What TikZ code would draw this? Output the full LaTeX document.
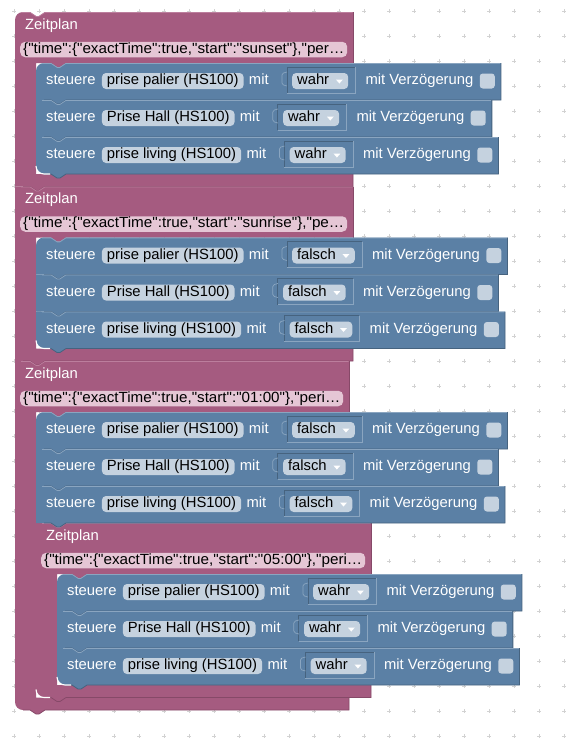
\documentclass[tikz,border=0pt]{standalone}
\usepackage{fontspec}
\setmainfont{Liberation Sans}[Ligatures=TeXOff]
\usepackage{graphicx}
\usetikzlibrary{positioning,calc}
\pgfdeclarelayer{gridl}
\pgfdeclarelayer{pinkl}
\pgfdeclarelayer{bluel}
\pgfsetlayers{gridl,pinkl,bluel,main}

\definecolor{pinkblk}{HTML}{A55B80}
\definecolor{pinkdk}{HTML}{864968}
\definecolor{pinklt}{HTML}{BC7E9D}
\definecolor{blueblk}{HTML}{5B80A5}
\definecolor{bluedk}{HTML}{46637F}
\definecolor{bluelt}{HTML}{8AA5C0}
\definecolor{fieldbl}{HTML}{C5D2DF}
\definecolor{fieldpk}{HTML}{E5C6D5}
\definecolor{gridc}{HTML}{D2D2D2}

\newcommand\fsz{\fontsize{14.8}{17}\selectfont}
\newdimen\myrowdim

\tikzset{
  lbl/.style={anchor=west, inner sep=0pt, text=white, font=\fsz, text height=10.5pt, text depth=3pt},
  pill/.style={anchor=west, fill=fieldbl, rounded corners=4pt, text=black, font=\fsz,
               inner xsep=5pt, inner ysep=1.25pt, text height=10.5pt, text depth=3pt},
  jpill/.style={anchor=west, fill=fieldpk, rounded corners=5pt, text=black, font=\fsz,
               inner xsep=3pt, inner ysep=1pt, text height=10.5pt, text depth=3pt},
  cbx/.style={anchor=west, fill=fieldbl, rounded corners=3pt, minimum size=15pt, inner sep=0pt},
  darkedge/.style={bluedk, line width=.8pt},
  lightedge/.style={bluelt, line width=.7pt},
  pdarkedge/.style={pinkdk, line width=.8pt},
  plightedge/.style={pinklt, line width=.7pt},
  innerhl/.style={white, line width=1.1pt},
  gridmark/.style={gridc, line width=.6pt}
}

% id, x0, y0, device, value, top rounded (1/0), bottom rounded (1/0)
\newcommand\SteuerRow[7]{%
  \node[lbl] (st#1) at ({#2+10},{#3+18}) {steuere};
  \node[pill, right=6pt of st#1] (dv#1) {#4};
  \node[lbl, right=5pt of dv#1] (mt#1) {mit};
  \node[pill, right=23pt of mt#1] (dd#1) {#5\rule{14pt}{0pt}};
  \fill[white] ($(dd#1.east)+(-12.5,-1.5)$) -- ++(7,0) -- ++(-3.5,4) -- cycle;
  \draw[darkedge, line width=.7pt] ($(dd#1.west)+(-5,12)$) -- ($(dd#1.west)+(-5,-14)$) -- ($(dd#1.east)+(7,-14)$);
  \draw[lightedge] ($(dd#1.east)+(7,-14)$) -- ($(dd#1.east)+(7,12)$) -- ($(dd#1.west)+(-5,12)$);
  \draw[lightedge, rounded corners=1.5pt] ($(dd#1.west)+(-5,-9)$) -- ++(-5,1.5) -- ++(0,11) -- ++(5,1.5);
  \node[lbl, right=17pt of dd#1] (mv#1) {mit Verzögerung};
  \node[cbx, right=6pt of mv#1] (cb#1) {};
  \pgfextractx{\myrowdim}{\pgfpointanchor{cb#1}{east}}%
  \pgfmathsetmacro\myRowEnd{\myrowdim+6}%
  \ifnum#6=1 \def\myTLc{({#2},{#3+8}) .. controls ({#2},{#3+3.6}) and ({#2+3.6},{#3}) .. ({#2+8},{#3})}%
  \else \def\myTLc{({#2},{#3})}\fi
  \ifnum#7=1 \def\myBLc{({#2+8},{#3+37}) .. controls ({#2+3.6},{#3+37}) and ({#2},{#3+33.4}) .. ({#2},{#3+29})}%
  \else \def\myBLc{({#2},{#3+37})}\fi
  \begin{pgfonlayer}{bluel}
    \fill[blueblk] \myTLc -- ({#2+15},{#3}) -- ({#2+21},{#3+4}) -- ({#2+24},{#3+4}) -- ({#2+30},{#3})
      -- (\myRowEnd,{#3}) -- (\myRowEnd,{#3+37}) -- ({#2+30},{#3+37}) -- ({#2+24},{#3+41})
      -- ({#2+21},{#3+41}) -- ({#2+15},{#3+37}) -- \myBLc -- cycle;
    \draw[lightedge] ({#2+6},{#3+.4}) -- ({#2+15},{#3+.4}) -- ({#2+21},{#3+4.4}) -- ({#2+24},{#3+4.4})
      -- ({#2+30},{#3+.4}) -- ({\myRowEnd-.5},{#3+.4});
    \draw[darkedge] (\myRowEnd,{#3}) -- (\myRowEnd,{#3+37}) -- ({#2+30},{#3+37}) -- ({#2+24},{#3+41})
      -- ({#2+21},{#3+41}) -- ({#2+15},{#3+37}) -- ({#2+8},{#3+37});
  \end{pgfonlayer}
}

% id, L, T, R, E (end of statements), top rounded, bottom rounded, json text, json pill end
\newcommand\ZeitBlock[9]{%
  \node[lbl] (zt#1) at ({#2+10},{#3+13.5}) {Zeitplan};
  \pgfmathsetmacro\myJW{#9-#2-11}%
  \node[jpill] (js#1) at ({#2+5},{#3+37.5}) {\resizebox{\myJW pt}{\height}{#8}};
  \ifnum#6=1 \def\myPTL{({#2},{#3+8}) .. controls ({#2},{#3+3.6}) and ({#2+3.6},{#3}) .. ({#2+8},{#3})}%
  \else \def\myPTL{({#2},{#3})}\fi
  \ifnum#7=1 \def\myPBL{({#2+8},{#5+12.5}) .. controls ({#2+3.6},{#5+12.5}) and ({#2},{#5+8.9}) .. ({#2},{#5+4.5})}%
  \else \def\myPBL{({#2},{#5+12.5})}\fi
  \begin{pgfonlayer}{pinkl}
    \fill[pinkblk] \myPTL -- ({#2+15},{#3}) -- ({#2+21},{#3+4}) -- ({#2+24},{#3+4}) -- ({#2+30},{#3})
      -- ({#4},{#3}) -- ({#4},{#3+51}) -- ({#2+51},{#3+51}) -- ({#2+45},{#3+55}) -- ({#2+42},{#3+55})
      -- ({#2+36},{#3+51}) -- ({#2+21},{#3+51}) -- ({#2+21},{#5}) -- ({#4},{#5}) -- ({#4},{#5+12.5})
      -- ({#2+30},{#5+12.5}) -- ({#2+24},{#5+16.5}) -- ({#2+21},{#5+16.5}) -- ({#2+15},{#5+12.5})
      -- \myPBL -- cycle;
    \draw[plightedge] ({#2+6},{#3+.4}) -- ({#2+15},{#3+.4}) -- ({#2+21},{#3+4.4}) -- ({#2+24},{#3+4.4})
      -- ({#2+30},{#3+.4}) -- ({#4-.5},{#3+.4});
    \draw[pdarkedge] ({#4},{#3}) -- ({#4},{#3+51});
    \draw[pdarkedge] ({#4},{#5}) -- ({#4},{#5+12.5}) -- ({#2+30},{#5+12.5}) -- ({#2+24},{#5+16.5})
      -- ({#2+21},{#5+16.5}) -- ({#2+15},{#5+12.5}) -- ({#2+8},{#5+12.5});
  \end{pgfonlayer}
  \draw[innerhl] ({#2+21},{#5-8}) .. controls ({#2+21},{#5-3.6}) and ({#2+24.6},{#5}) .. ({#2+29},{#5}) -- ({#2+35},{#5});
}

\begin{document}
\begin{tikzpicture}[x=1pt,y=-1pt]
\useasboundingbox (0,0) rectangle (572,739);
\begin{pgfonlayer}{gridl}
  \fill[white] (0,0) rectangle (572,739);
  \foreach \gx in {14,39,...,564} {
    \foreach \gy in {11,36,...,736} {
      \draw[gridmark] (\gx-1.6,\gy) -- (\gx+1.6,\gy) (\gx,\gy-1.6) -- (\gx,\gy+1.6);
    }
  }
\end{pgfonlayer}

% Block A
\ZeitBlock{A}{15}{12}{353}{174}{1}{0}{\{"time":\{"exactTime":true,"start":"sunset"\},"per…}{347}
\SteuerRow{a1}{36}{63}{prise palier (HS100)}{wahr}{1}{0}
\SteuerRow{a2}{36}{100}{Prise Hall (HS100)}{wahr}{0}{0}
\SteuerRow{a3}{36}{137}{prise living (HS100)}{wahr}{0}{1}

% Block B
\ZeitBlock{B}{15}{186.5}{353}{348.5}{0}{0}{\{"time":\{"exactTime":true,"start":"sunrise"\},"pe…}{347}
\SteuerRow{b1}{36}{237.5}{prise palier (HS100)}{falsch}{1}{0}
\SteuerRow{b2}{36}{274.5}{Prise Hall (HS100)}{falsch}{0}{0}
\SteuerRow{b3}{36}{311.5}{prise living (HS100)}{falsch}{0}{1}

% Block C
\ZeitBlock{C}{15}{361}{349}{697.5}{0}{1}{\{"time":\{"exactTime":true,"start":"01:00"\},"peri…}{343}
\SteuerRow{c1}{36}{412}{prise palier (HS100)}{falsch}{1}{0}
\SteuerRow{c2}{36}{449}{Prise Hall (HS100)}{falsch}{0}{0}
\SteuerRow{c3}{36}{486}{prise living (HS100)}{falsch}{0}{0}

% Block D (inside C)
\ZeitBlock{D}{36}{523}{371}{685}{0}{1}{\{"time":\{"exactTime":true,"start":"05:00"\},"peri…}{365}
\SteuerRow{d1}{57}{574}{prise palier (HS100)}{wahr}{1}{0}
\SteuerRow{d2}{57}{611}{Prise Hall (HS100)}{wahr}{0}{0}
\SteuerRow{d3}{57}{648}{prise living (HS100)}{wahr}{0}{1}
\end{tikzpicture}
\end{document}
